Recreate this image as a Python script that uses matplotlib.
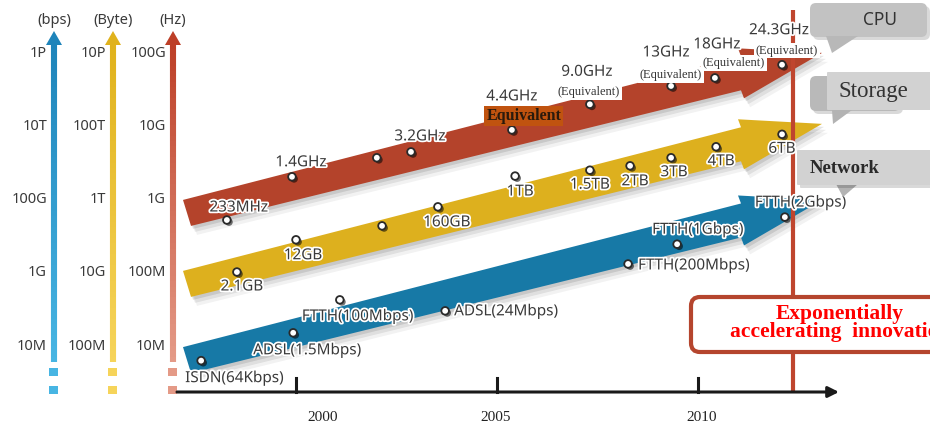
import numpy as np
import matplotlib
matplotlib.use("Agg")
import matplotlib.pyplot as plt
import matplotlib.patheffects as pe
from matplotlib.patches import Polygon, FancyBboxPatch, Rectangle
from matplotlib.collections import LineCollection
from matplotlib.colors import to_rgb

plt.rcParams["font.family"] = ["Noto Sans", "DejaVu Sans"]

# ── data: x = year, y = position on the chart's log scale (1 unit = 1 decade of Hz) ──
cpu_years = [1998.28, 1999.90, 2002.01, 2002.86, 2005.37, 2007.31, 2009.33, 2010.42, 2012.09]
cpu_levels = [8.72, 9.31, 9.57, 9.65, 9.95, 10.30, 10.55, 10.66, 10.84]
cpu_labels = ["233MHz", "1.4GHz", "", "3.2GHz", "4.4GHz", "9.0GHz", "13GHz", "18GHz", "24.3GHz"]

sto_years = [1998.53, 2000.00, 2002.14, 2003.53, 2005.45, 2007.31, 2008.31, 2009.33, 2010.45, 2012.09]
sto_levels = [8.01, 8.45, 8.64, 8.90, 9.32, 9.40, 9.46, 9.57, 9.72, 9.89]
sto_labels = ["2.1GB", "12GB", "", "160GB", "1TB", "1.5TB", "2TB", "3TB", "4TB", "6TB"]

net_years = [1997.64, 1999.93, 2001.09, 2003.71, 2008.26, 2009.48, 2012.16]
net_levels = [6.80, 7.18, 7.63, 7.48, 8.12, 8.39, 8.76]
net_labels = ["ISDN(64Kbps)", "ADSL(1.5Mbps)", "FTTH(100Mbps)", "ADSL(24Mbps)",
              "FTTH(200Mbps)", "FTTH(1Gbps)", "FTTH(2Gbps)"]

tick_levels = [7, 8, 9, 10, 11]
bps_ticks = ["10M", "1G", "100G", "10T", "1P"]
byte_ticks = ["100M", "10G", "1T", "100T", "10P"]
hz_ticks = ["10M", "100M", "1G", "10G", "100G"]
year_ticks = [2000, 2005, 2010]
now_year = 2012.36

# ── label placement (pixel offsets from the point) ──
cpu_off = [(12, 12), (9, 14), None, (9, 15), (0, 33), (-3, 32), (-5, 33), (2, 33), (-3, 34)]
cpu_eq_off = {5: (-1, 12), 6: (0, 11), 7: (19, 15), 8: (5, 14)}
sto_off = [(5, -15), (7, -16), None, (9, -16), (5, -16), (0, -15), (5, -16), (3, -15), (5, -15), (0, -15)]
net_off = [(-16, -18), (-40, -18), (-38, -17), (9, -1), (10, -2), (-25, 14), (-30, 14)]

RED, YELLOW, BLUE = "#B4432B", "#DDB01E", "#1779A6"
TXT = "#3a3a3a"
halo = [pe.withStroke(linewidth=2.5, foreground="white")]

W, H = 930, 425
PXY, PXL = 40.2, 73.25   # pixels per year / per decade


def X(px):
    return 2000 + (px - 296) / PXY


def Y(py):
    return 7 + (346 - py) / PXL


fig = plt.figure(figsize=(W / 100, H / 100), dpi=100)
ax = fig.add_axes([0, 0, 1, 1])
ax.set_xlim(X(0), X(W))
ax.set_ylim(Y(H), Y(0))
ax.axis("off")

# ── the three parallel arrows ──
SLOPE = 0.252 * PXY / PXL


def draw_band(years, levels, color, shift_px):
    mx, my = np.mean(years), np.mean(levels)

    def c(x):
        return my + SLOPE * (x - mx) - shift_px / PXL

    xl, xl2, xh, xt = X(183), X(191), X(741), X(822)
    hl, hr, hh = 14 / PXL, 17 / PXL, 25 / PXL
    pts = np.array([(xl, c(xl) + hl), (xh, c(xh) + hr), (xh - 3 / PXY, c(xh) + hh), (xt, c(xt)),
                    (xh + 3 / PXY, c(xh) - hh), (xh, c(xh) - hr), (xl2, c(xl2) - hl)])
    for dx, dy, a in [(2, 3, 0.10), (4, 6, 0.08), (6, 9, 0.05)]:
        sh = pts + np.array([dx / PXY, -dy / PXL])
        ax.add_patch(Polygon(sh, closed=True, fc="black", ec="none", alpha=a, zorder=1))
    ax.add_patch(Polygon(pts, closed=True, fc=color, ec="none", zorder=2))


draw_band(cpu_years, cpu_levels, RED, 2)
draw_band(sto_years, sto_levels, YELLOW, 9)
draw_band(net_years, net_levels, BLUE, -4)

# "now" line
ax.plot([now_year, now_year], [Y(392), Y(10)], color="#BF452E", lw=3, zorder=3, solid_capstyle="butt")

# points
dot_fx = [pe.SimplePatchShadow(offset=(1.5, -1.5), shadow_rgbFace="black", alpha=0.55), pe.Normal()]
for xs, ys in [(cpu_years, cpu_levels), (sto_years, sto_levels), (net_years, net_levels)]:
    ax.scatter(xs, ys, s=30, fc="white", ec="#2a2a2a", lw=1.3, zorder=6, path_effects=dot_fx)

# labels
for x, y, t, o in zip(cpu_years, cpu_levels, cpu_labels, cpu_off):
    if t:
        ax.annotate(t, (x, y), xytext=o, textcoords="offset pixels", ha="center", va="center",
                    fontsize=11, color=TXT, path_effects=halo, zorder=8)
for i, o in cpu_eq_off.items():
    ax.annotate("(Equivalent)", (cpu_years[i], cpu_levels[i]), xytext=o, textcoords="offset pixels",
                ha="center", va="center", fontsize=9, family="Liberation Serif", color="#333333",
                bbox=dict(fc="white", ec="none", pad=1.2), zorder=7)
ax.annotate("Equivalent", (cpu_years[4], cpu_levels[4]), xytext=(12, 14), textcoords="offset pixels",
            ha="center", va="center", fontsize=11.5, family="Liberation Serif", weight="bold",
            color="#2a1a0c", bbox=dict(fc="#C0530F", ec="none", pad=1.5), zorder=7)

for x, y, t, o in zip(sto_years, sto_levels, sto_labels, sto_off):
    if t:
        ax.annotate(t, (x, y), xytext=o, textcoords="offset pixels", ha="center", va="center",
                    fontsize=11, color=TXT, path_effects=halo, zorder=8)
for x, y, t, o in zip(net_years, net_levels, net_labels, net_off):
    ax.annotate(t, (x, y), xytext=o, textcoords="offset pixels", ha="left", va="center",
                fontsize=11, color=TXT, path_effects=halo, zorder=8)

# ── left value axes ──
axes_spec = [
    (54, "(bps)", bps_ticks, "#1E84BA", "#47B5E3"),
    (113, "(Byte)", byte_ticks, "#E0B21C", "#F6D45A"),
    (173, "(Hz)", hz_ticks, "#BD3F27", "#E49A87"),
]
for xp, unit, ticks, ctop, cbot in axes_spec:
    ys = np.linspace(Y(362), Y(44), 60)
    segs = [[(X(xp), ys[i]), (X(xp), ys[i + 1])] for i in range(len(ys) - 1)]
    t = np.linspace(0, 1, len(segs))[:, None]
    cols = (1 - t) * np.array(to_rgb(cbot)) + t * np.array(to_rgb(ctop))
    ax.add_collection(LineCollection(segs, colors=cols, linewidths=4.4, zorder=2))
    ax.add_patch(Polygon([(X(xp - 8), Y(45)), (X(xp + 8), Y(45)), (X(xp), Y(31))],
                         closed=True, fc=ctop, ec="none", zorder=2))
    for top in (368, 386):
        ax.add_patch(Rectangle((X(xp - 4.5), Y(top + 8)), 9 / PXY, 8 / PXL, fc=cbot, ec="none", zorder=2))
    for lvl, lab in zip(tick_levels, ticks):
        ax.text(X(xp - 7), lvl, lab, ha="right", va="center", fontsize=10.5, color=TXT)
    ax.text(X(xp), Y(20), unit, ha="center", va="center", fontsize=10.5, color=TXT)

# ── time axis ──
ax.annotate("", xy=(X(839), Y(392)), xytext=(X(177), Y(392)),
            arrowprops=dict(arrowstyle="-|>", lw=2.2, color="#1a1a1a", mutation_scale=16,
                            shrinkA=0, shrinkB=0), zorder=4)
year_label_shift = [27, -1, 4]
for yr, s in zip(year_ticks, year_label_shift):
    ax.plot([yr, yr], [Y(392), Y(378)], color="#1a1a1a", lw=2.2, zorder=4)
    ax.text(yr + s / PXY, Y(417), str(yr), ha="center", va="center", fontsize=11,
            family="Liberation Serif", color="#222222")

# ── call-outs on the right ──
def px_box(x0, y0, x1, y1, fc, r=6, z=9, shadow=True):
    if shadow:
        ax.add_patch(FancyBboxPatch((X(x0 + 3), Y(y1 + 3)), (x1 - x0) / PXY, (y1 - y0) / PXL,
                                    boxstyle=f"round,pad=0,rounding_size={r / PXY}",
                                    mutation_aspect=PXY / PXL, fc="black", ec="none", alpha=0.15, zorder=z))
    ax.add_patch(FancyBboxPatch((X(x0), Y(y1)), (x1 - x0) / PXY, (y1 - y0) / PXL,
                                boxstyle=f"round,pad=0,rounding_size={r / PXY}",
                                mutation_aspect=PXY / PXL, fc=fc, ec="none", zorder=z))


def px_poly(pts, fc, z=9):
    ax.add_patch(Polygon([(X(a), Y(b)) for a, b in pts], closed=True, fc=fc, ec="none", zorder=z))


# CPU
px_box(810, 3, 927, 37, "#C2C2C2")
px_poly([(826, 36), (858, 36), (832, 53)], "#B8B8B8")
ax.text(X(880), Y(20), "CPU", ha="center", va="center", fontsize=12.5, color="#333333", zorder=10)
# Storage
px_box(810, 76, 900, 111, "#B9B9B9")
px_poly([(832, 110), (852, 110), (833, 124)], "#B3B3B3")
px_box(827, 72, 934, 110, "#D2D2D2", r=1, shadow=False, z=9.5)
ax.text(X(873), Y(91), "Storage", ha="center", va="center", fontsize=16.5,
        family="Liberation Serif", color="#333333", zorder=10)
# Network
px_poly([(836, 184), (858, 184), (843, 197)], "#B3B3B3")
px_box(797, 150, 934, 185, "#D2D2D2", r=1)
ax.text(X(810), Y(168), "Network", ha="left", va="center", fontsize=13.5, weight="bold",
        family="Liberation Serif", color="#2a2a2a", zorder=10)

# ── message box (runs off the right edge, as in the original slide) ──
ax.add_patch(FancyBboxPatch((X(691), Y(352)), (960 - 691) / PXY, (352 - 297) / PXL,
                            boxstyle=f"round,pad=0,rounding_size={9 / PXY}", mutation_aspect=PXY / PXL,
                            fc="white", ec="#B5452E", lw=3, zorder=9))
ax.text(X(840), Y(323), "Exponentially\naccelerating  innovation", ha="center", va="center",
        fontsize=15.5, weight="bold", family="Liberation Serif", color="#FF0000",
        linespacing=0.82, zorder=10)

fig.savefig("out.png", dpi=100)
